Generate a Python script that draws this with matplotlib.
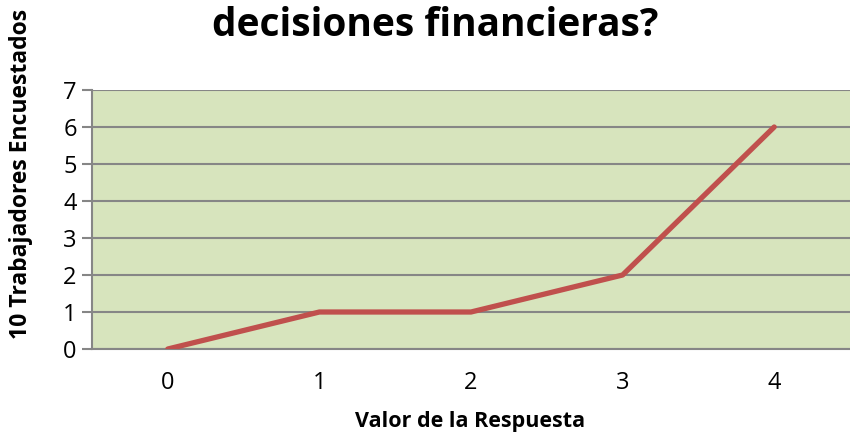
import matplotlib.pyplot as plt

valores = [0, 1, 2, 3, 4]
trabajadores = [0, 1, 1, 2, 6]
y_ticks = [0, 1, 2, 3, 4, 5, 6, 7]

plt.rcParams['font.family'] = ['Open Sans', 'DejaVu Sans']

fig = plt.figure(figsize=(8.5, 4.37), dpi=100)
ax = fig.add_axes([92 / 850, 1 - 349 / 437, 758 / 850, 259 / 437])

ax.set_facecolor('#D7E4BD')
ax.plot(valores, trabajadores, color='#C0504D', linewidth=3.8, solid_capstyle='round', zorder=3)

ax.set_xlim(-0.5, 4.5)
ax.set_ylim(0, 7)
ax.set_yticks(y_ticks)
ax.set_xticks(valores)
ax.grid(axis='y', color='#868686', linewidth=1.5)
ax.set_axisbelow(True)

for side in ['top', 'right']:
    ax.spines[side].set_visible(False)
for side in ['left', 'bottom']:
    ax.spines[side].set_color('#868686')
    ax.spines[side].set_linewidth(1.5)

ax.tick_params(axis='y', length=7, width=1.5, color='#868686', labelsize=17, pad=4)
ax.tick_params(axis='x', length=0, labelsize=17, pad=16)

fig.text(435 / 850, 1 - 25 / 437, 'decisiones financieras?', ha='center', va='center',
         fontsize=28, fontweight='bold')
fig.text(470 / 850, 1 - 422 / 437, 'Valor de la Respuesta', ha='center', va='center',
         fontsize=15.5, fontweight='bold')
fig.text(21 / 850, 1 - 174 / 437, '10 Trabajadores Encuestados', rotation=90,
         ha='center', va='center', fontsize=16.5, fontweight='bold')

plt.savefig('out.png', dpi=100)
